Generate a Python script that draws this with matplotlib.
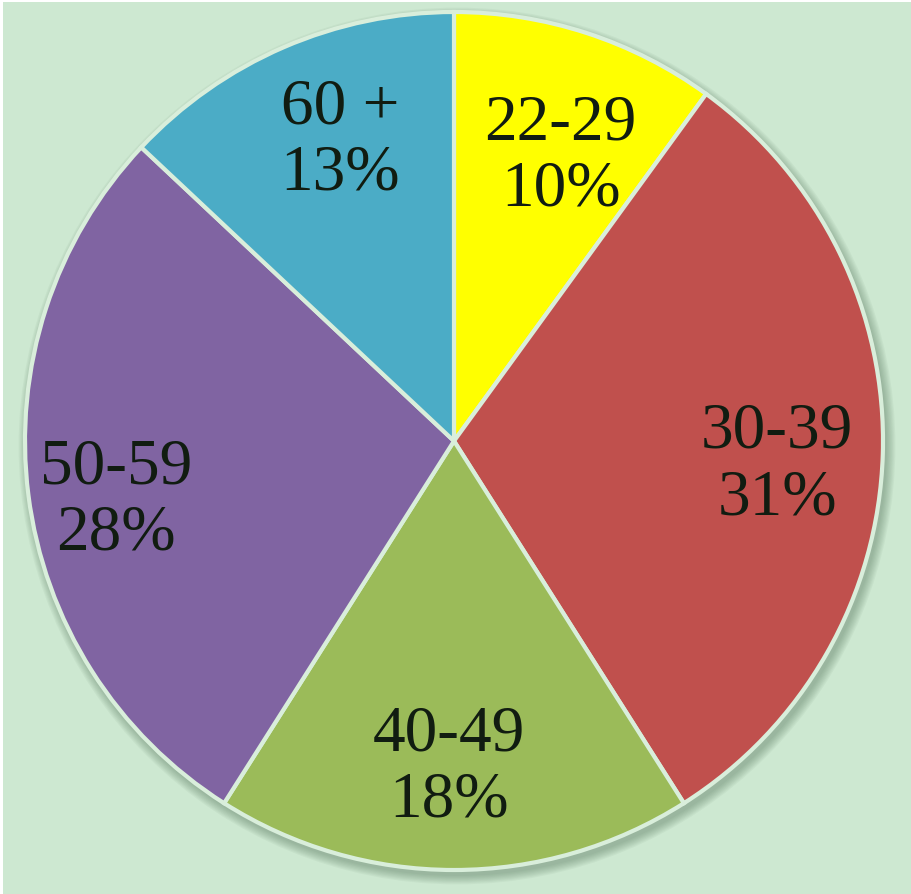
import matplotlib.pyplot as plt
import numpy as np
from matplotlib.patches import Circle, Rectangle

# data
age_groups = ['22-29', '30-39', '40-49', '50-59', '60 +']
shares = [10, 31, 18, 28, 13]
slice_colors = ['#ffff00', '#c0504d', '#9bbb59', '#8064a2', '#4bacc6']

# style / layout
BG = '#cde8d1'
EDGE = '#d9eedb'
TEXT = '#111c11'
label_dist = [0.71, 0.755, 0.76, 0.80, 0.75]
label_turn = [-2.5, -2.3, -0.9, 2.6, -2.7]   # degrees, nudges off the mid-angle

W, H = 912, 895
cx, cy, r = 454, H - 442, 429

fig = plt.figure(figsize=(W / 100, H / 100), dpi=100)
fig.patch.set_facecolor('white')
ax = fig.add_axes([0, 0, 1, 1])

# background panel (thin white strip on top/left)
ax.add_patch(Rectangle((3, 0), W - 3, H - 3, facecolor=BG, edgecolor='none', zorder=0))

# soft shadow to the lower right
for k in range(8):
    ax.add_patch(Circle((cx + 3, cy - 5), r + 1 + k * 1.2, facecolor='#4f6f55',
                        edgecolor='none', alpha=0.06, zorder=1))

wedges, _ = ax.pie(shares, colors=slice_colors, startangle=90, counterclock=False,
                   center=(cx, cy), radius=r, frame=True,
                   wedgeprops=dict(edgecolor=EDGE, linewidth=3))
for w in wedges:
    w.set_zorder(2)
ax.set_xlim(0, W)
ax.set_ylim(0, H)
ax.set_aspect('equal')
ax.axis('off')

for w, name, pct, d, t in zip(wedges, age_groups, shares, label_dist, label_turn):
    mid = np.deg2rad((w.theta1 + w.theta2) / 2 + t)
    x = cx + d * r * np.cos(mid)
    y = cy + d * r * np.sin(mid)
    ax.text(x, y, f'{name}\n{pct}%', ha='center', va='center', fontsize=47,
            family='Liberation Serif', color=TEXT, linespacing=1.15, zorder=3)

fig.savefig('out.png', dpi=100, facecolor='white')
